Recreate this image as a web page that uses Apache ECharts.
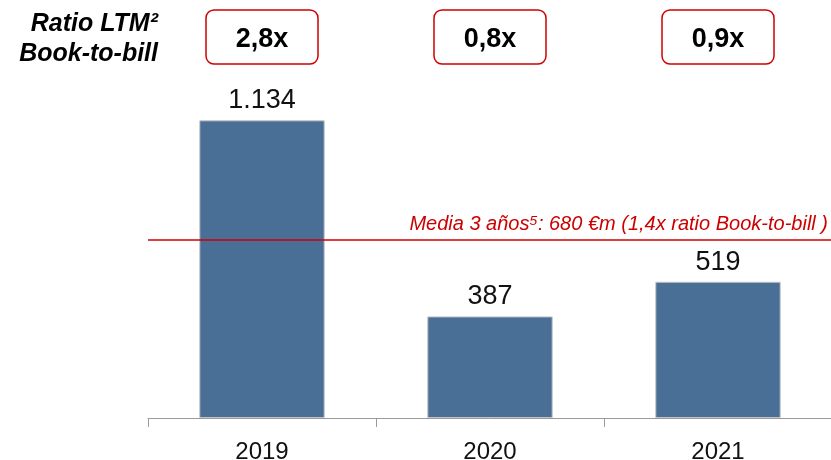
<!DOCTYPE html>
<html>
<head>
<meta charset="utf-8">
<script src="https://cdn.jsdelivr.net/npm/echarts@6/dist/echarts.min.js"></script>
<style>
  html, body { margin: 0; padding: 0; background: #fff; }
  #main { width: 831px; height: 460px; }
</style>
</head>
<body>
<div id="main"></div>
<script>
var years = ['2019', '2020', '2021']
var values = [1134, 387, 519]
var ratios = ['2,8x', '0,8x', '0,9x']
var mediaValue = 680
var mediaText = 'Media 3 años⁵: 680 €m (1,4x ratio Book-to-bill )'

var font = '"Liberation Sans", Arial, sans-serif'
var myChart = echarts.init(document.getElementById('main'))

function fmt(v) {
  // spanish thousands separator
  return String(v).replace(/\B(?=(\d{3})+(?!\d))/g, '.')
}

var option = {
  backgroundColor: '#fff',
  animation: false,
  grid: {
    left: 148,
    right: -1,
    top: 103,
    bottom: 42,
    containLabel: false,
    outerBoundsMode: 'none'
  },
  xAxis: {
    type: 'category',
    data: years,
    axisLine: { lineStyle: { color: '#9a9a9a', width: 1 } },
    axisTick: { show: true, length: 9, lineStyle: { color: '#9a9a9a' } },
    axisLabel: {
      color: '#111',
      fontFamily: font,
      fontSize: 24,
      margin: 22
    }
  },
  yAxis: {
    type: 'value',
    min: 0,
    max: 1200,
    show: false,
    splitLine: { show: false }
  },
  series: [
    {
      type: 'bar',
      data: values,
      barWidth: '55%',
      itemStyle: {
        color: '#4a6f97',
        borderColor: '#c4c4c4',
        borderWidth: 1
      },
      label: {
        show: true,
        position: 'top',
        distance: 6,
        color: '#111',
        fontFamily: font,
        fontSize: 27,
        formatter: function (p) {
          return fmt(p.value)
        }
      },
      markLine: {
        silent: true,
        symbol: 'none',
        lineStyle: { color: '#cc0000', width: 1.5, type: 'solid' },
        label: {
          position: 'insideEndTop',
          distance: [4, 5],
          color: '#cc0000',
          fontFamily: font,
          fontSize: 20,
          fontStyle: 'italic',
          formatter: mediaText
        },
        data: [{ yAxis: mediaValue }]
      }
    }
  ]
}

myChart.setOption(option)

// ratio boxes above each bar + left heading
var graphics = [
  {
    type: 'text',
    style: {
      text: 'Ratio LTM²\nBook-to-bill',
      x: 158,
      y: 9,
      align: 'right',
      verticalAlign: 'top',
      font: 'italic bold 25px ' + font,
      fill: '#000',
      lineHeight: 30
    }
  }
]
years.forEach(function (y, i) {
  var cx = myChart.convertToPixel({ xAxisIndex: 0 }, y)
  graphics.push({
    type: 'rect',
    shape: { x: cx - 56, y: 10, width: 112, height: 54, r: 8 },
    style: { fill: '#fff', stroke: '#cc0000', lineWidth: 1.5 }
  })
  graphics.push({
    type: 'text',
    style: {
      text: ratios[i],
      x: cx,
      y: 40,
      align: 'center',
      verticalAlign: 'middle',
      font: 'bold 27px ' + font,
      fill: '#000'
    }
  })
})
myChart.setOption({ graphic: graphics })
</script>
</body>
</html>
